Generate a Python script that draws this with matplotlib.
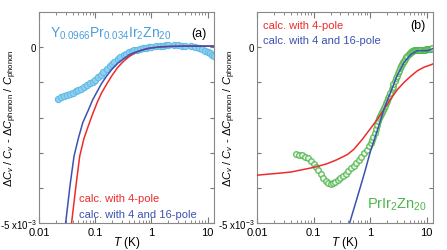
import numpy as np
import matplotlib
matplotlib.use("Agg")
import matplotlib.pyplot as plt
from matplotlib.ticker import LogLocator, NullFormatter, FixedLocator

# ================= Einstellungen =================
plt.rcParams['font.family'] = ['Liberation Sans', 'DejaVu Sans']
plt.rcParams['mathtext.fontset'] = 'custom'
plt.rcParams['mathtext.rm'] = 'Liberation Sans'
plt.rcParams['mathtext.it'] = 'Liberation Sans:italic'
plt.rcParams['mathtext.bf'] = 'Liberation Sans:bold'

red = "#ee2b2b"
blue = "#3b52b0"
lblue_face = "#8ed0f2"
lblue_edge = "#66bae6"
green = "#4db64a"

# ================= Daten (a): Y0.0966Pr0.034Ir2Zn20 =================
T_a = [0.022, 0.025, 0.028, 0.032, 0.036, 0.04, 0.045, 0.05, 0.056, 0.063,
       0.071, 0.08, 0.09, 0.1, 0.11, 0.125, 0.14, 0.16, 0.18, 0.2,
       0.22, 0.25, 0.28, 0.32, 0.36, 0.4, 0.45, 0.5, 0.56, 0.63,
       0.71, 0.8, 0.9, 1.0, 1.2, 1.4, 1.6, 1.8, 2.0, 2.5,
       3.0, 3.5, 4.0, 5.0, 6.0, 7.0, 8.0, 9.0, 10.0, 11.0, 12.0, 13.0]
dC_a = [-1.46, -1.43, -1.40, -1.37, -1.33, -1.29, -1.26, -1.22, -1.18, -1.13,
        -1.08, -1.03, -0.98, -0.92, -0.86, -0.79, -0.71, -0.62, -0.54, -0.47,
        -0.41, -0.34, -0.28, -0.23, -0.19, -0.15, -0.12, -0.09, -0.07, -0.05,
        -0.03, -0.02, 0.0, 0.01, 0.03, 0.04, 0.04, 0.05, 0.05, 0.05,
        0.05, 0.04, 0.04, 0.02, 0.0, -0.03, -0.06, -0.10, -0.14, -0.18, -0.22, -0.26]

T_a_4 = [0.035, 0.038, 0.045, 0.053, 0.063, 0.075, 0.09, 0.11, 0.13, 0.16,
         0.2, 0.25, 0.32, 0.4, 0.5, 0.63, 0.8, 1.0, 1.3, 2.0, 4.0, 8.0, 13.0]
calc_a_4 = [-5.5, -5.0, -4.0, -3.1, -2.6, -2.25, -1.9, -1.55, -1.3, -1.05,
            -0.8, -0.58, -0.4, -0.27, -0.17, -0.1, -0.05, -0.02, 0.0, 0.02, 0.03, 0.03, 0.03]

T_a_16 = [0.027, 0.0298, 0.0356, 0.042, 0.05, 0.06, 0.075, 0.09, 0.106, 0.13,
          0.16, 0.2, 0.25, 0.32, 0.4, 0.5, 0.63, 0.8, 1.0, 1.5, 2.0, 4.0, 13.0]
calc_a_16 = [-5.5, -5.0, -3.94, -3.1, -2.6, -2.15, -1.8, -1.5, -1.29, -1.03,
             -0.82, -0.62, -0.46, -0.33, -0.22, -0.15, -0.1, -0.05, -0.02, 0.01, 0.02, 0.03, 0.03]

# ================= Daten (b): PrIr2Zn20 =================
T_b = [0.048, 0.055, 0.063, 0.071, 0.08, 0.089, 0.1, 0.11, 0.12, 0.135,
       0.15, 0.165, 0.18, 0.2, 0.22, 0.24, 0.27, 0.3, 0.33, 0.37,
       0.41, 0.46, 0.51, 0.57, 0.63, 0.7, 0.78, 0.87, 0.97, 1.03,
       1.08, 1.14, 1.2, 1.26, 1.33, 1.39, 1.45, 1.51, 1.58, 1.65,
       1.72, 1.8, 1.87, 1.95, 2.03, 2.11, 2.2, 2.3, 2.4, 2.5,
       2.6, 2.72, 2.85, 2.97, 3.1, 3.25, 3.4, 3.55, 3.7, 3.85,
       4.0, 4.2, 4.4, 4.6, 4.8, 5.0, 5.2, 5.45, 5.7, 5.95,
       6.2, 6.5, 6.8, 7.1, 7.4, 7.7, 8.1, 8.5, 8.9, 9.3,
       9.7, 10.1, 10.6, 11.1, 11.6, 12.1, 12.7]
dC_b = [-3.05, -3.06, -3.08, -3.11, -3.16, -3.23, -3.32, -3.40, -3.49, -3.62,
        -3.72, -3.80, -3.86, -3.89, -3.87, -3.84, -3.79, -3.73, -3.67, -3.60,
        -3.52, -3.44, -3.37, -3.29, -3.21, -3.12, -3.02, -2.92, -2.80, -2.72,
        -2.65, -2.55, -2.45, -2.33, -2.20, -2.10, -2.00, -1.95, -1.90, -1.84,
        -1.78, -1.73, -1.68, -1.60, -1.52, -1.45, -1.38, -1.29, -1.20, -1.12,
        -1.05, -0.96, -0.88, -0.81, -0.74, -0.67, -0.60, -0.53, -0.47, -0.42,
        -0.38, -0.33, -0.28, -0.24, -0.20, -0.17, -0.14, -0.12, -0.10, -0.09,
        -0.08, -0.08, -0.08, -0.09, -0.09, -0.09, -0.08, -0.08, -0.07, -0.07,
        -0.06, -0.06, -0.05, -0.05, -0.04, -0.04, -0.03]

T_b_4 = [0.01, 0.026, 0.04, 0.1, 0.17, 0.26, 0.4, 0.52, 0.73, 1.0,
         1.35, 1.8, 2.3, 3.0, 4.0, 5.3, 6.9, 9.0, 12.0, 15.0]
calc_b_4 = [-3.64, -3.58, -3.55, -3.42, -3.32, -3.2, -3.05, -2.9, -2.62, -2.33,
            -2.05, -1.75, -1.48, -1.22, -1.0, -0.82, -0.67, -0.57, -0.5, -0.43]

T_b_16 = [0.4, 0.435, 0.6, 0.8, 1.0, 1.35, 1.77, 2.3, 3.0, 4.0,
          5.3, 6.9, 10.4, 15.0]
calc_b_16 = [-5.2, -5.0, -4.25, -3.57, -3.0, -2.36, -1.76, -1.29, -0.82, -0.43,
             -0.2, -0.1, -0.1, 0.0]

ylabel = r"$\Delta C_v$ / $C_v$ - $\Delta C_{\rm phonon}$ / $C_{\rm phonon}$"
xticks = [0.01, 0.1, 1, 10]
xticklabels = ["0.01", "0.1", "1", "10"]

# ================= Plot =================
fig = plt.figure(figsize=(4.47, 2.51), dpi=100)
ax1 = fig.add_axes([39/447, 27/251, 175/447, 211/251])
ax2 = fig.add_axes([257/447, 27/251, 176/447, 211/251])

s = 1e-3
ax1.plot(T_a, np.array(dC_a)*s, ls="none", marker="o", ms=4.5,
         mfc=lblue_face, mec=lblue_edge, mew=0.8, zorder=2)
ax1.plot(T_a_4, np.array(calc_a_4)*s, color=red, lw=1.1, zorder=3)
ax1.plot(T_a_16, np.array(calc_a_16)*s, color=blue, lw=1.1, zorder=3)

ax2.plot(T_b, np.array(dC_b)*s, ls="none", marker="o", ms=4,
         mfc="white", mec=green, mew=1.1, alpha=0.8, zorder=2)
ax2.plot(T_b_4, np.array(calc_b_4)*s, color=red, lw=1.1, zorder=3)
ax2.plot(T_b_16, np.array(calc_b_16)*s, color=blue, lw=1.1, zorder=3)

for ax, lx in ((ax1, -20/175), (ax2, -19/176)):
    ax.set_xscale("log")
    ax.set_xlim(0.01, 13)
    ax.set_ylim(-5e-3, 1e-3)
    ax.xaxis.set_major_locator(FixedLocator(xticks))
    ax.set_xticklabels(xticklabels)
    ax.xaxis.set_minor_locator(LogLocator(base=10, subs=np.arange(2, 10)))
    ax.xaxis.set_minor_formatter(NullFormatter())
    ax.set_yticks([-5e-3, -4e-3, -3e-3, -2e-3, -1e-3, 0])
    ax.set_yticklabels([r"-5 x10$^{-3}$", "", "", "", "", "0"])
    ax.tick_params(axis="both", which="both", direction="in",
                   colors="#777777", labelcolor="black")
    ax.tick_params(axis="x", labelsize=8, pad=3)
    ax.tick_params(axis="y", labelsize=7, pad=2)
    ax.tick_params(axis="x", which="major", length=4, top=True)
    ax.tick_params(axis="x", which="minor", length=2, top=True)
    ax.tick_params(axis="y", which="major", length=3, right=True)
    for sp in ax.spines.values():
        sp.set_color("#888888")
        sp.set_linewidth(0.8)
    ax.set_xlabel(r"$T$ (K)", fontsize=8.5, labelpad=-2)
    ax.set_ylabel(ylabel, fontsize=8)
    ax.yaxis.set_label_coords(lx, 0.5)

ax1.text(0.063, 0.885, r"Y$_{0.0966}$Pr$_{0.034}$Ir$_2$Zn$_{20}$", transform=ax1.transAxes,
         color="#4a9edb", fontsize=10, va="baseline")
ax1.text(0.96, 0.9, "(a)", transform=ax1.transAxes, ha="right", va="center", fontsize=9)
ax1.text(0.23, 0.117, "calc. with 4-pole", transform=ax1.transAxes, color=red,
         fontsize=8, va="center")
ax1.text(0.23, 0.045, "calc. with 4 and 16-pole", transform=ax1.transAxes, color=blue,
         fontsize=8, va="center")

ax2.text(0.035, 0.94, "calc. with 4-pole", transform=ax2.transAxes, color=red,
         fontsize=8, va="center")
ax2.text(0.035, 0.865, "calc. with 4 and 16-pole", transform=ax2.transAxes, color=blue,
         fontsize=8, va="center")
ax2.text(0.96, 0.94, "(b)", transform=ax2.transAxes, ha="right", va="center", fontsize=9)
ax2.text(0.625, 0.075, r"PrIr$_2$Zn$_{20}$", transform=ax2.transAxes, color=green,
         fontsize=10.5, va="baseline")

fig.savefig("out.png", dpi=100)
